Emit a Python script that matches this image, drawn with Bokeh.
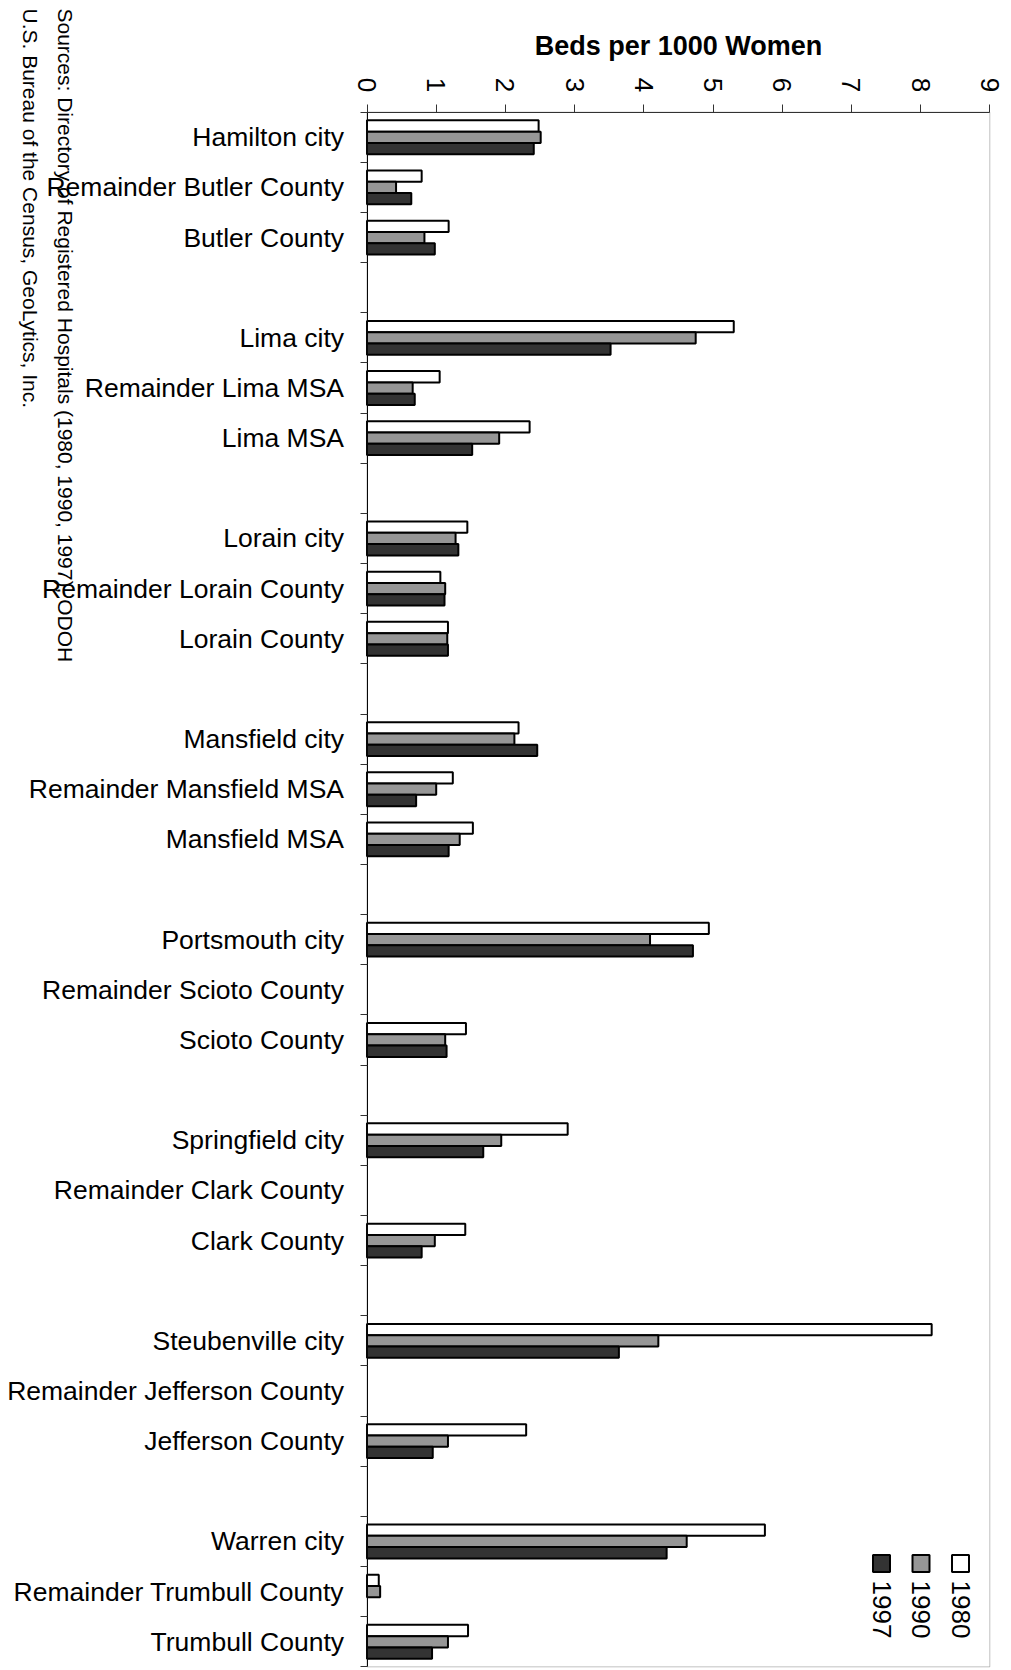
import math
import numpy as np
from bokeh.plotting import figure
from bokeh.models import ColumnDataSource, Range1d, FixedTicker, Label, BoxAnnotation
from bokeh.transform import dodge
from bokeh.core.properties import value
from bokeh.embed import file_html
from bokeh.resources import INLINE

# ---------------- data ----------------
categories = [
    "Hamilton city", "Remainder Butler County", "Butler County",
    "Lima city", "Remainder Lima MSA", "Lima MSA",
    "Lorain city", "Remainder Lorain County", "Lorain County",
    "Mansfield city", "Remainder Mansfield MSA", "Mansfield MSA",
    "Portsmouth city", "Remainder Scioto County", "Scioto County",
    "Springfield city", "Remainder Clark County", "Clark County",
    "Steubenville city", "Remainder Jefferson County", "Jefferson County",
    "Warren city", "Remainder Trumbull County", "Trumbull County",
]
years = ["1980", "1990", "1997"]
nan = float("nan")
beds_1980 = [2.48, 0.79, 1.18, 5.30, 1.05, 2.35, 1.45, 1.06, 1.17, 2.19, 1.24, 1.53,
             4.94, nan, 1.43, 2.90, nan, 1.42, 8.16, nan, 2.30, 5.75, 0.17, 1.46]
beds_1990 = [2.51, 0.42, 0.83, 4.75, 0.66, 1.91, 1.28, 1.13, 1.16, 2.13, 1.00, 1.34,
             4.09, nan, 1.13, 1.94, nan, 0.98, 4.21, nan, 1.17, 4.62, 0.19, 1.17]
beds_1997 = [2.41, 0.64, 0.98, 3.52, 0.69, 1.52, 1.32, 1.12, 1.17, 2.46, 0.71, 1.18,
             4.71, nan, 1.15, 1.68, nan, 0.79, 3.64, nan, 0.95, 4.33, nan, 0.94]
x_ticks = [0, 1, 2, 3, 4, 5, 6, 7, 8, 9]
title_text = "Beds per 1000 Women"
source_lines = [
    "Sources:  Directory of Registered Hospitals (1980, 1990, 1997), ODOH",
    "U.S. Bureau of the Census, GeoLytics, Inc.",
]

# ---------------- styles / layout ----------------
FONT = "Liberation Sans"
colors = ["#FFFFFF", "#969696", "#333333"]
AXIS_COLOR = "#333333"
FIG_W, FIG_H = 1008, 1668
X0_PX, UNIT_PX = 366.5, 69.2      # canvas x of value 0, pixels per unit
TOP_PX, SLOT_PX = 111.7, 50.15    # canvas y of the plot-area top, pixels per slot

# slot layout: every group of three is followed by an empty slot
slots = [i + i // 3 for i in range(len(categories))]
n_slots = slots[-1] + 1


def px_to_x(px):
    return (px - X0_PX) / UNIT_PX


def px_to_y(py):
    return -0.5 + (py - TOP_PX) / SLOT_PX


# the frame spans the whole canvas so that the rotated notes are not clipped;
# the axes are pinned at the plot-area edges with fixed_location
p = figure(width=FIG_W, height=FIG_H, output_backend="svg", toolbar_location=None,
           title=None,
           x_range=Range1d(px_to_x(0), px_to_x(FIG_W)),
           y_range=Range1d(px_to_y(FIG_H), px_to_y(0)),
           x_axis_location="above",
           min_border_left=0, min_border_right=0, min_border_top=0,
           min_border_bottom=0)
p.background_fill_color = "white"
p.border_fill_color = "white"
p.outline_line_color = None
p.xgrid.visible = False
p.ygrid.visible = False

src = ColumnDataSource(dict(
    slot=slots,
    b1980=np.array(beds_1980, dtype=float),
    b1990=np.array(beds_1990, dtype=float),
    b1997=np.array(beds_1997, dtype=float),
))
offsets = [-0.225, 0.0, 0.225]
for col, off, color in zip(["b1980", "b1990", "b1997"], offsets, colors):
    p.hbar(y=dodge("slot", off, range=p.y_range), left=0, right=col, height=0.225,
           fill_color=color, line_color="black", line_width=2, source=src)

# plot-area border
p.add_layout(BoxAnnotation(left=x_ticks[0], right=x_ticks[-1], top=-0.5,
                           bottom=n_slots - 0.5, fill_color=None, fill_alpha=0,
                           line_color=AXIS_COLOR, line_width=1))

# ---------------- axes ----------------
xa = p.xaxis[0]
xa.fixed_location = -0.5
xa.bounds = (x_ticks[0], x_ticks[-1])
xa.ticker = FixedTicker(ticks=x_ticks, minor_ticks=[])
xa.major_tick_out = 8
xa.major_tick_in = 0
xa.minor_tick_out = 0
xa.minor_tick_in = 0
xa.axis_line_color = AXIS_COLOR
xa.major_tick_line_color = AXIS_COLOR
xa.major_label_orientation = -math.pi / 2
xa.major_label_standoff = 12
xa.major_label_text_font = FONT
xa.major_label_text_font_size = "26px"
xa.major_label_text_color = "black"
xa.axis_label = title_text
xa.axis_label_text_font = FONT
xa.axis_label_text_font_style = "bold"
xa.axis_label_text_font_size = "27px"
xa.axis_label_text_color = "black"
xa.axis_label_standoff = 14

ya = p.yaxis[0]
ya.fixed_location = 0
ya.bounds = (-0.5, n_slots - 0.5)
ya.ticker = FixedTicker(ticks=slots, minor_ticks=[k - 0.5 for k in range(n_slots + 1)])
ya.major_label_overrides = {s: name for s, name in zip(slots, categories)}
ya.major_tick_out = 0
ya.major_tick_in = 0
ya.minor_tick_out = 7
ya.minor_tick_in = 0
ya.axis_line_color = "black"
ya.minor_tick_line_color = AXIS_COLOR
ya.major_label_standoff = 16
ya.major_label_text_font = FONT
ya.major_label_text_font_size = "26.5px"
ya.major_label_text_color = "black"

# ---------------- legend (rotated, bottom right) ----------------
leg = ColumnDataSource(dict(x=[px_to_x(960), px_to_x(920.5), px_to_x(881)],
                            y=[px_to_y(1563)] * 3, ty=[px_to_y(1580)] * 3,
                            text=years, color=colors))
p.rect(x="x", y="y", width=17, height=17, width_units="screen", height_units="screen",
       fill_color="color", line_color="black", line_width=2, source=leg)
p.text(x="x", y="ty", text="text", angle=-math.pi / 2, text_align="left",
       text_baseline="middle", text_font=value(FONT), text_font_size="26px",
       text_color="black", source=leg)

# ---------------- sources note (rotated, left edge) ----------------
for line, lx in zip(source_lines, [65, 30]):
    p.add_layout(Label(x=px_to_x(lx), y=px_to_y(8), text=line, angle=-math.pi / 2,
                       text_align="left", text_baseline="middle",
                       text_font=FONT, text_font_size="21px", text_color="black"))

open("out.html", "w").write(file_html(p, INLINE))
